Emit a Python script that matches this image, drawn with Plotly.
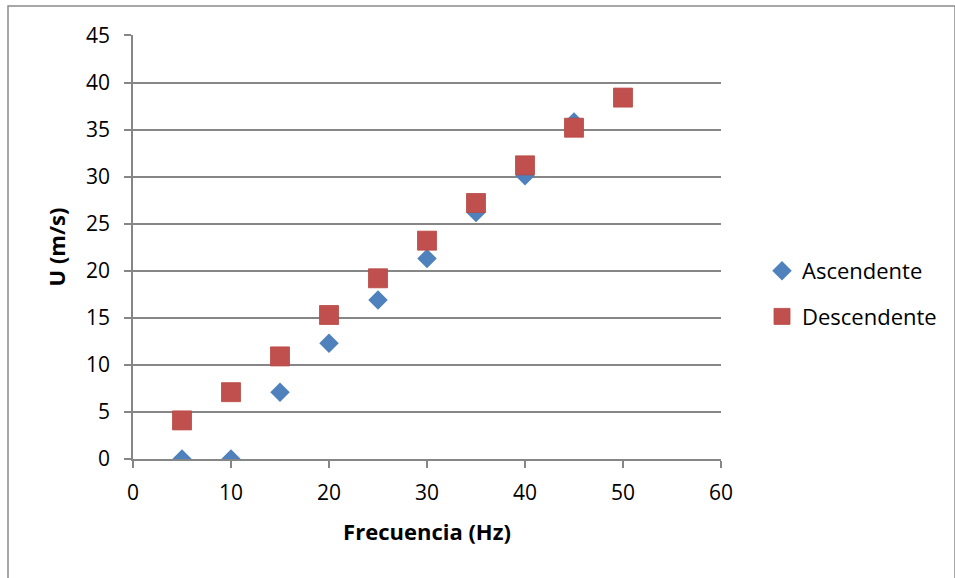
import plotly.graph_objects as go

# Frequency (Hz) and measured velocity U (m/s)
freq_asc = [5, 10, 15, 20, 25, 30, 35, 40, 45]
u_asc = [0.0, 0.0, 7.1, 12.3, 16.9, 21.3, 26.2, 30.1, 35.8]

freq_desc = [5, 10, 15, 20, 25, 30, 35, 40, 45, 50]
u_desc = [4.1, 7.1, 10.9, 15.3, 19.2, 23.2, 27.2, 31.2, 35.2, 38.4]

x_ticks = [0, 10, 20, 30, 40, 50, 60]
y_ticks = [0, 5, 10, 15, 20, 25, 30, 35, 40, 45]

BLUE = "#4F81BD"
RED = "#C0504D"
GRID = "#868686"
FONT = "Open Sans"

fig = go.Figure()
fig.add_trace(go.Scatter(
    x=freq_asc, y=u_asc, mode="markers", name="Ascendente",
    legendgroup="a",
    marker=dict(symbol="diamond", size=15, color=BLUE, line=dict(width=0)),
))
fig.add_trace(go.Scatter(
    x=freq_desc, y=u_desc, mode="markers", name="Descendente",
    legendgroup="d",
    marker=dict(symbol="square", size=19, color=RED,
                line=dict(width=0.8, color="#B84744")),
))

W, H = 955, 578
L, R, T, B = 133, 234, 35, 119
pw, ph = W - L - R, H - T - B


def px_x(p):
    return (p - L) / pw


def px_y(p):
    return (H - B - p) / ph


fig.update_layout(
    width=W, height=H,
    margin=dict(l=L, r=R, t=T, b=B),
    paper_bgcolor="white", plot_bgcolor="white",
    font=dict(family=FONT, size=21, color="#000000"),
    showlegend=True,
    legend=dict(
        x=px_x(762), y=px_y(250), xanchor="left", yanchor="top",
        font=dict(family=FONT, size=22, color="#000000"),
        tracegroupgap=14, itemwidth=30, bgcolor="rgba(0,0,0,0)",
    ),
    xaxis=dict(
        range=[0, 60], tickvals=x_ticks, ticktext=[str(v) for v in x_ticks],
        showgrid=False, zeroline=False,
        showline=True, linecolor=GRID, linewidth=1.5,
        ticks="outside", ticklen=7, tickcolor=GRID, tickwidth=1.5,
        ticklabelstandoff=7,
        tickfont=dict(family=FONT, size=21, color="#000000"),
        title=dict(text="<b>Frecuencia (Hz)</b>", standoff=20,
                   font=dict(family=FONT, size=22, color="#000000")),
    ),
    yaxis=dict(
        range=[0, 45.05], tickvals=y_ticks, ticktext=[str(v) for v in y_ticks],
        showgrid=True, gridcolor=GRID, gridwidth=1.5, zeroline=False,
        showline=True, linecolor=GRID, linewidth=1.5,
        ticks="outside", ticklen=7, tickcolor=GRID, tickwidth=1.5,
        ticklabelstandoff=10,
        tickfont=dict(family=FONT, size=21, color="#000000"),
        title=dict(text="<b>U (m/s)</b>", standoff=14,
                   font=dict(family=FONT, size=22, color="#000000")),
    ),
    shapes=[dict(
        type="rect", xref="paper", yref="paper",
        x0=px_x(8), x1=px_x(955), y0=px_y(600), y1=px_y(6),
        line=dict(color="#8a8a8a", width=1.5), fillcolor="rgba(0,0,0,0)",
        layer="below",
    )],
)

fig.write_html("out.html")
